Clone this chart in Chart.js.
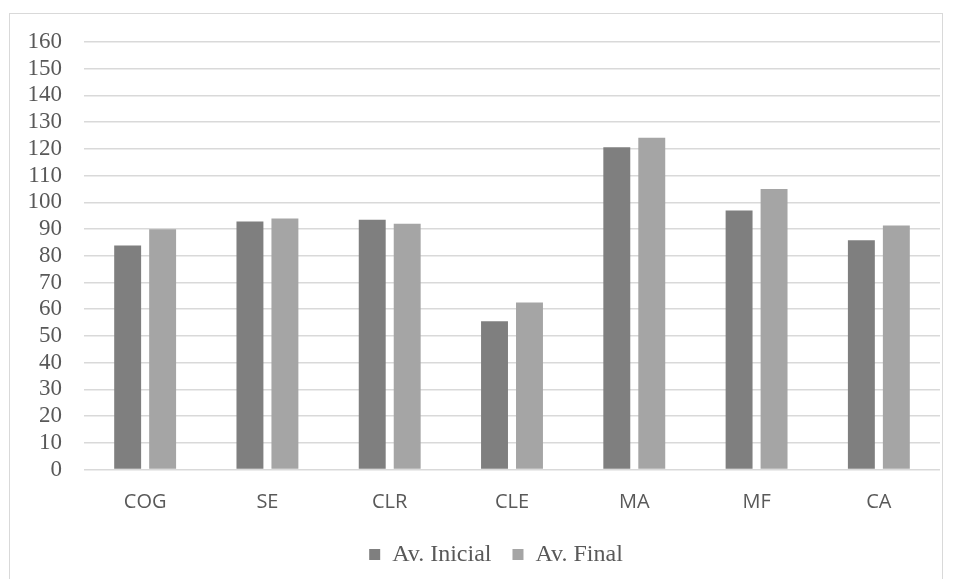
<!DOCTYPE html>
<html>
<head>
<meta charset="utf-8">
<script src="https://cdn.jsdelivr.net/npm/chart.js@4.4.1/dist/chart.umd.min.js"></script>
<style>
  html, body { margin: 0; padding: 0; background: #ffffff; }
  #wrap { position: relative; width: 955px; height: 579px; overflow: hidden; }
  #frame { position: absolute; left: 9px; top: 13px; width: 934px; height: 600px; border: 1px solid #d9d9d9; box-sizing: border-box; }
  canvas { position: absolute; left: 0; top: 0; }
</style>
</head>
<body>
<div id="wrap">
  <div id="frame"></div>
  <canvas id="c" width="955" height="579"></canvas>
</div>
<script>
const categories = ["COG", "SE", "CLR", "CLE", "MA", "MF", "CA"];
const seriesNames = ["Av. Inicial", "Av. Final"];
const avInicial = [83.8, 92.8, 93.5, 55.5, 120.6, 96.9, 85.8];
const avFinal = [89.9, 93.9, 92.0, 62.5, 124.2, 105.0, 91.3];

const serif = "'Liberation Serif', 'Times New Roman', serif";
const sans = "'Open Sans', 'Noto Sans', sans-serif";

const legendShift = {
  id: "legendShift",
  afterLayout(chart) {
    const lg = chart.legend;
    if (lg) { lg.left += 26; lg.right += 26; }
  }
};

new Chart(document.getElementById("c"), {
  type: "bar",
  data: {
    labels: categories,
    datasets: [
      { label: seriesNames[0], data: avInicial, backgroundColor: "#7f7f7f", categoryPercentage: 0.572, barPercentage: 0.77 },
      { label: seriesNames[1], data: avFinal, backgroundColor: "#a5a5a5", categoryPercentage: 0.572, barPercentage: 0.77 }
    ]
  },
  plugins: [legendShift],
  options: {
    responsive: false,
    animation: false,
    layout: { padding: { top: 42, right: 15, left: 0, bottom: 2.5 } },
    plugins: {
      tooltip: { enabled: false },
      legend: {
        position: "bottom",
        labels: {
          boxWidth: 11,
          boxHeight: 11,
          padding: 21,
          color: "#595959",
          font: { family: serif, size: 24 }
        }
      }
    },
    scales: {
      x: {
        grid: { display: false },
        border: { display: false },
        ticks: { color: "#595959", padding: 13, font: { family: sans, size: 20 } },
        afterFit: (s) => { s.height = 52; }
      },
      y: {
        min: 0, max: 160,
        grid: { color: "#d9d9d9", lineWidth: 1.4, drawTicks: false },
        border: { display: false },
        ticks: { stepSize: 10, autoSkip: false, color: "#595959", padding: 22, font: { family: serif, size: 23 } },
        afterFit: (s) => { s.width = 84; }
      }
    }
  }
});
</script>
</body>
</html>
